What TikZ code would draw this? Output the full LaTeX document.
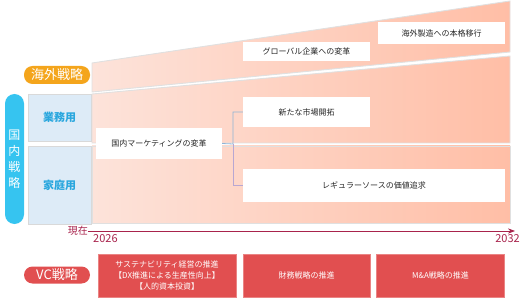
\documentclass[tikz,border=0pt]{standalone}
\usepackage{fontspec}
\setmainfont{Noto Sans CJK JP}
\usetikzlibrary{arrows.meta, positioning, calc}
\definecolor{ovsorange}{HTML}{F4A51C}
\definecolor{domblue}{HTML}{36C4F0}
\definecolor{segfill}{HTML}{DDEBF7}
\definecolor{segtext}{HTML}{2AA7DE}
\definecolor{vcred}{HTML}{E14F50}
\definecolor{axisred}{HTML}{A8234C}
\definecolor{bandL}{HTML}{FDE3DA}
\definecolor{bandR}{HTML}{FFBEA6}
\definecolor{linkblue}{HTML}{8FB4D6}

\begin{document}
\begin{tikzpicture}[x=1pt, y=-1pt, >=Stealth,
  band/.style={draw=black!12, line width=0.9pt, left color=bandL, right color=bandR},
  pill/.style={fill=#1, text=white, rounded corners=8.5pt, inner sep=0pt, font=\fontsize{13}{14}\selectfont},
  segbox/.style={draw=black!15, fill=segfill, text=segtext, inner sep=0pt, minimum width=63pt, font=\fontsize{11}{12}\selectfont\bfseries},
  wbox/.style={fill=white, text=black!85, inner sep=0pt, font=\fontsize{8}{10}\selectfont},
  vcbox/.style={fill=vcred, draw=vcred!70!white, text=white, inner sep=0pt, minimum height=43pt, align=center, font=\fontsize{8}{11}\selectfont},
  yr/.style={text=axisred, inner sep=0pt, font=\fontsize{11}{12}\selectfont}]
  \useasboundingbox (0,0) rectangle (527,299);
  % bands
  \draw[band] (92,63) -- (510,1) -- (510,52) -- (92,92) -- cycle;
  \draw[band] (92,94) -- (510,56) -- (510,143) -- (92,143) -- cycle;
  \draw[band] (92,146) rectangle (510,223);
  % left labels
  \node[pill=ovsorange, minimum width=66pt, minimum height=18pt] (ovs) at (57,75) {海外戦略};
  \node[pill=domblue, minimum width=19pt, minimum height=130pt, rounded corners=9.5pt, align=center,
    font=\fontsize{12}{16}\selectfont] (dom) at (14.5,159) {国\\内\\戦\\略};
  \node[segbox, minimum height=47pt] (biz) at (59.5,117.5) {業務用};
  \node[segbox, minimum height=78pt] (home) at (59.5,185) {家庭用};
  \node[pill=vcred, minimum width=66pt, minimum height=17pt] (vc) at (57,275) {VC戦略};
  % measures
  \node[wbox, minimum width=126pt, minimum height=31pt] (mkt) at (159,143.5) {国内マーケティングの変革};
  \node[wbox, minimum width=127pt, minimum height=30pt] (new) at (306.5,112) {新たな市場開拓};
  \node[wbox, minimum width=262pt, minimum height=33pt] (reg) at (374,185.5) {レギュラーソースの価値追求};
  \node[wbox, minimum width=127pt, minimum height=19pt] (glob) at (306.5,51.5) {グローバル企業への変革};
  \node[wbox, minimum width=127pt, minimum height=22pt] (mfg) at (441.5,33) {海外製造への本格移行};
  \coordinate (split) at (233,144);
  \draw[linkblue, line width=0.8pt] (mkt.east) -- (split) |- (new.west);
  \draw[linkblue!60!violet!60, line width=0.8pt] (split) |- (reg.west);
  % timeline
  \coordinate (t0) at (88,231);
  \coordinate (t1) at (515,231);
  \draw[->, axisred, line width=0.9pt] (t0) -- (t1);
  \node[yr, anchor=east, font=\fontsize{10}{12}\selectfont] (now) at (t0) {現在};
  \node[yr, anchor=north west] (y0) at ($(t0)+(5,3)$) {2026};
  \node[yr, anchor=north east] (y1) at ($(t1)+(5,3)$) {2032};
  % value chain
  \node[vcbox, minimum width=138pt] (vc1) at (167,275.5) {サステナビリティ経営の推進\\【DX推進による生産性向上】\\【人的資本投資】};
  \node[vcbox, minimum width=127pt] (vc2) at (306.5,275.5) {財務戦略の推進};
  \node[vcbox, minimum width=128pt] (vc3) at (440.5,275.5) {M\&A戦略の推進};
\end{tikzpicture}
\end{document}
